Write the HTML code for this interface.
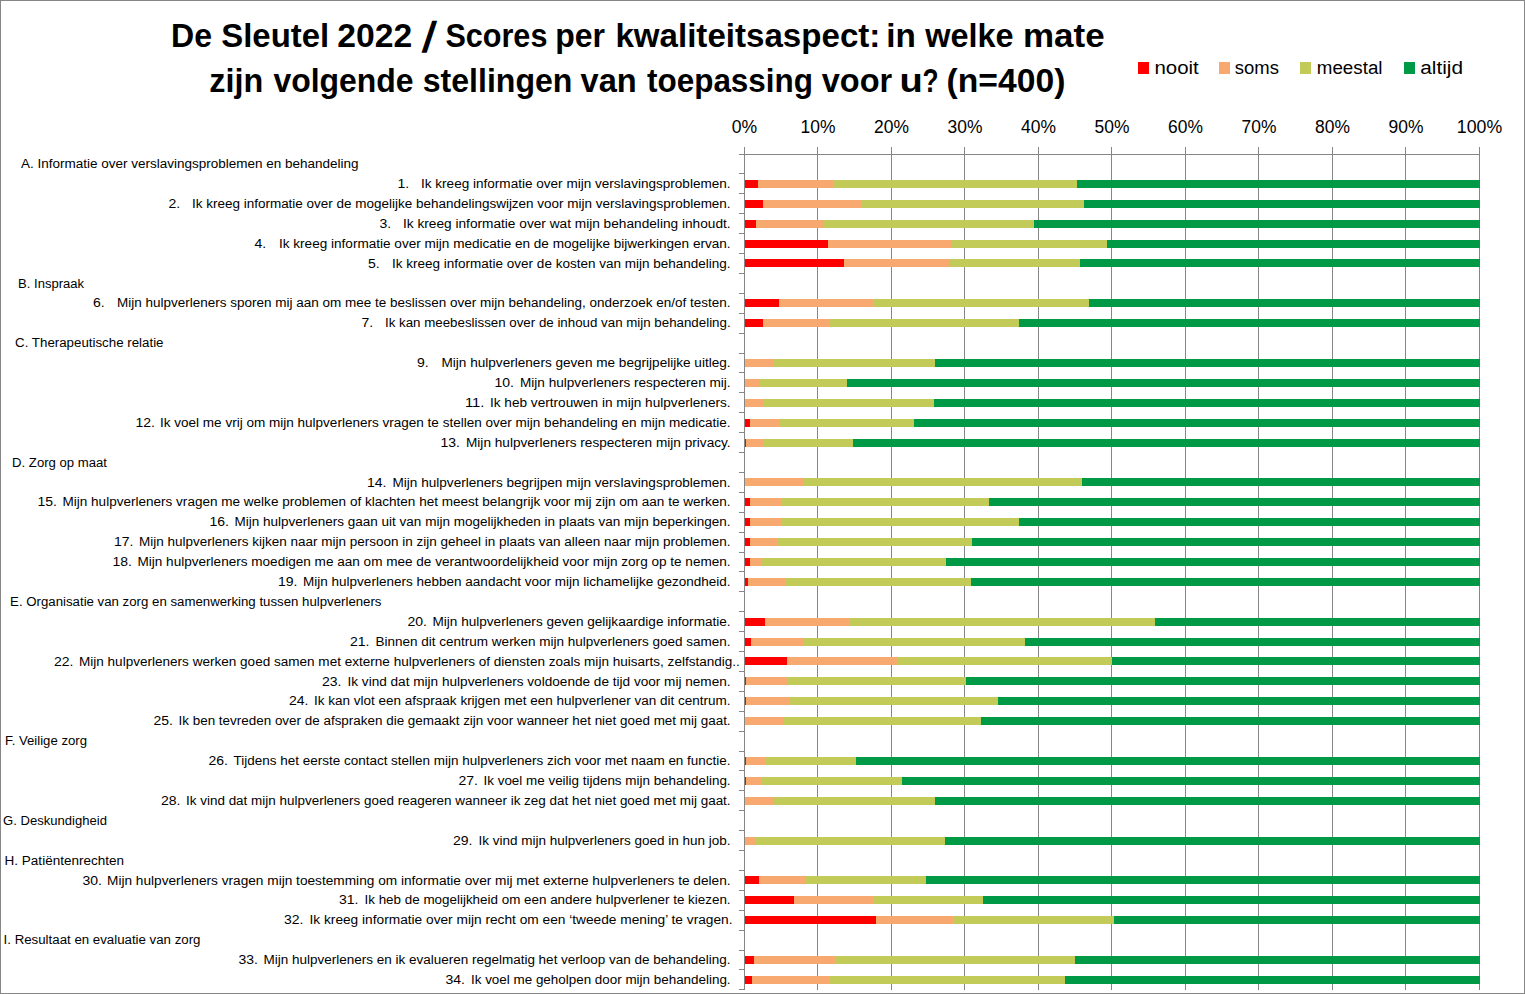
<!DOCTYPE html>
<html lang="nl"><head><meta charset="utf-8"><title>De Sleutel 2022 - Scores per kwaliteitsaspect</title>
<style>
html,body{margin:0;padding:0;background:#fff;}
body{width:1525px;height:994px;overflow:hidden;font-family:"Liberation Sans",sans-serif;}
svg{display:block;}
svg text{font-family:"Liberation Sans",sans-serif;fill:#000;white-space:pre;}
.lb{font-size:12.5px;}
.ax{font-size:18px;}
.ti{font-size:33px;font-weight:bold;}
.lg{font-size:19.2px;}
</style></head><body>
<svg width="1525" height="994" viewBox="0 0 1525 994">
<rect x="0" y="0" width="1525" height="994" fill="#fff"/>
<g fill="#868686" shape-rendering="crispEdges">
<rect x="744" y="147" width="1" height="843"/>
<rect x="817" y="147" width="1" height="843"/>
<rect x="891" y="147" width="1" height="843"/>
<rect x="964" y="147" width="1" height="843"/>
<rect x="1038" y="147" width="1" height="843"/>
<rect x="1111" y="147" width="1" height="843"/>
<rect x="1185" y="147" width="1" height="843"/>
<rect x="1258" y="147" width="1" height="843"/>
<rect x="1332" y="147" width="1" height="843"/>
<rect x="1405" y="147" width="1" height="843"/>
<rect x="1479" y="147" width="1" height="843"/>
<rect x="739" y="154" width="741" height="1"/>
<rect x="739" y="154" width="6" height="1"/>
<rect x="739" y="173" width="6" height="1"/>
<rect x="739" y="193" width="6" height="1"/>
<rect x="739" y="213" width="6" height="1"/>
<rect x="739" y="233" width="6" height="1"/>
<rect x="739" y="253" width="6" height="1"/>
<rect x="739" y="273" width="6" height="1"/>
<rect x="739" y="293" width="6" height="1"/>
<rect x="739" y="313" width="6" height="1"/>
<rect x="739" y="333" width="6" height="1"/>
<rect x="739" y="353" width="6" height="1"/>
<rect x="739" y="372" width="6" height="1"/>
<rect x="739" y="392" width="6" height="1"/>
<rect x="739" y="412" width="6" height="1"/>
<rect x="739" y="432" width="6" height="1"/>
<rect x="739" y="452" width="6" height="1"/>
<rect x="739" y="472" width="6" height="1"/>
<rect x="739" y="492" width="6" height="1"/>
<rect x="739" y="512" width="6" height="1"/>
<rect x="739" y="532" width="6" height="1"/>
<rect x="739" y="552" width="6" height="1"/>
<rect x="739" y="571" width="6" height="1"/>
<rect x="739" y="591" width="6" height="1"/>
<rect x="739" y="611" width="6" height="1"/>
<rect x="739" y="631" width="6" height="1"/>
<rect x="739" y="651" width="6" height="1"/>
<rect x="739" y="671" width="6" height="1"/>
<rect x="739" y="691" width="6" height="1"/>
<rect x="739" y="711" width="6" height="1"/>
<rect x="739" y="731" width="6" height="1"/>
<rect x="739" y="751" width="6" height="1"/>
<rect x="739" y="770" width="6" height="1"/>
<rect x="739" y="790" width="6" height="1"/>
<rect x="739" y="810" width="6" height="1"/>
<rect x="739" y="830" width="6" height="1"/>
<rect x="739" y="850" width="6" height="1"/>
<rect x="739" y="870" width="6" height="1"/>
<rect x="739" y="890" width="6" height="1"/>
<rect x="739" y="910" width="6" height="1"/>
<rect x="739" y="930" width="6" height="1"/>
<rect x="739" y="950" width="6" height="1"/>
<rect x="739" y="969" width="6" height="1"/>
<rect x="739" y="989" width="6" height="1"/>
</g>
<g shape-rendering="crispEdges">
<rect x="745.0" y="180" width="13.0" height="8" fill="#FF0000"/>
<rect x="758.0" y="180" width="74.9" height="8" fill="#F7A970"/>
<rect x="832.9" y="180" width="244.3" height="8" fill="#C3CB58"/>
<rect x="1077.2" y="180" width="402.8" height="8" fill="#009946"/>
<rect x="745.0" y="200" width="18.0" height="8" fill="#FF0000"/>
<rect x="763.0" y="200" width="97.7" height="8" fill="#F7A970"/>
<rect x="860.7" y="200" width="223.5" height="8" fill="#C3CB58"/>
<rect x="1084.2" y="200" width="395.8" height="8" fill="#009946"/>
<rect x="745.0" y="220" width="11.0" height="8" fill="#FF0000"/>
<rect x="756.0" y="220" width="67.7" height="8" fill="#F7A970"/>
<rect x="823.7" y="220" width="210.3" height="8" fill="#C3CB58"/>
<rect x="1034.0" y="220" width="446.0" height="8" fill="#009946"/>
<rect x="745.0" y="240" width="82.9" height="8" fill="#FF0000"/>
<rect x="827.9" y="240" width="123.9" height="8" fill="#F7A970"/>
<rect x="951.8" y="240" width="155.2" height="8" fill="#C3CB58"/>
<rect x="1107.0" y="240" width="373.0" height="8" fill="#009946"/>
<rect x="745.0" y="259" width="98.9" height="8" fill="#FF0000"/>
<rect x="843.9" y="259" width="105.9" height="8" fill="#F7A970"/>
<rect x="949.8" y="259" width="130.2" height="8" fill="#C3CB58"/>
<rect x="1080.0" y="259" width="400.0" height="8" fill="#009946"/>
<rect x="745.0" y="299" width="34.0" height="8" fill="#FF0000"/>
<rect x="779.0" y="299" width="94.6" height="8" fill="#F7A970"/>
<rect x="873.6" y="299" width="215.4" height="8" fill="#C3CB58"/>
<rect x="1089.0" y="299" width="391.0" height="8" fill="#009946"/>
<rect x="745.0" y="319" width="18.0" height="8" fill="#FF0000"/>
<rect x="763.0" y="319" width="65.9" height="8" fill="#F7A970"/>
<rect x="828.9" y="319" width="190.1" height="8" fill="#C3CB58"/>
<rect x="1019.0" y="319" width="461.0" height="8" fill="#009946"/>
<rect x="745.0" y="359" width="27.5" height="8" fill="#F7A970"/>
<rect x="772.5" y="359" width="162.4" height="8" fill="#C3CB58"/>
<rect x="934.9" y="359" width="545.1" height="8" fill="#009946"/>
<rect x="745.0" y="379" width="14.5" height="8" fill="#F7A970"/>
<rect x="759.5" y="379" width="87.4" height="8" fill="#C3CB58"/>
<rect x="846.9" y="379" width="633.1" height="8" fill="#009946"/>
<rect x="745.0" y="399" width="18.2" height="8" fill="#F7A970"/>
<rect x="763.2" y="399" width="170.9" height="8" fill="#C3CB58"/>
<rect x="934.1" y="399" width="545.9" height="8" fill="#009946"/>
<rect x="745.0" y="419" width="5.0" height="8" fill="#FF0000"/>
<rect x="750.0" y="419" width="30.0" height="8" fill="#F7A970"/>
<rect x="780.0" y="419" width="133.9" height="8" fill="#C3CB58"/>
<rect x="913.9" y="419" width="566.1" height="8" fill="#009946"/>
<rect x="745.0" y="439" width="1.0" height="8" fill="#FF0000"/>
<rect x="746.0" y="439" width="17.2" height="8" fill="#F7A970"/>
<rect x="763.2" y="439" width="89.7" height="8" fill="#C3CB58"/>
<rect x="852.9" y="439" width="627.1" height="8" fill="#009946"/>
<rect x="745.0" y="478" width="58.7" height="8" fill="#F7A970"/>
<rect x="803.7" y="478" width="278.3" height="8" fill="#C3CB58"/>
<rect x="1082.0" y="478" width="398.0" height="8" fill="#009946"/>
<rect x="745.0" y="498" width="5.0" height="8" fill="#FF0000"/>
<rect x="750.0" y="498" width="31.2" height="8" fill="#F7A970"/>
<rect x="781.2" y="498" width="207.9" height="8" fill="#C3CB58"/>
<rect x="989.1" y="498" width="490.9" height="8" fill="#009946"/>
<rect x="745.0" y="518" width="5.0" height="8" fill="#FF0000"/>
<rect x="750.0" y="518" width="30.5" height="8" fill="#F7A970"/>
<rect x="780.5" y="518" width="238.5" height="8" fill="#C3CB58"/>
<rect x="1019.0" y="518" width="461.0" height="8" fill="#009946"/>
<rect x="745.0" y="538" width="5.0" height="8" fill="#FF0000"/>
<rect x="750.0" y="538" width="26.5" height="8" fill="#F7A970"/>
<rect x="776.5" y="538" width="195.3" height="8" fill="#C3CB58"/>
<rect x="971.8" y="538" width="508.2" height="8" fill="#009946"/>
<rect x="745.0" y="558" width="5.0" height="8" fill="#FF0000"/>
<rect x="750.0" y="558" width="10.7" height="8" fill="#F7A970"/>
<rect x="760.7" y="558" width="185.1" height="8" fill="#C3CB58"/>
<rect x="945.8" y="558" width="534.2" height="8" fill="#009946"/>
<rect x="745.0" y="578" width="3.0" height="8" fill="#FF0000"/>
<rect x="748.0" y="578" width="36.7" height="8" fill="#F7A970"/>
<rect x="784.7" y="578" width="186.1" height="8" fill="#C3CB58"/>
<rect x="970.8" y="578" width="509.2" height="8" fill="#009946"/>
<rect x="745.0" y="618" width="20.0" height="8" fill="#FF0000"/>
<rect x="765.0" y="618" width="83.7" height="8" fill="#F7A970"/>
<rect x="848.7" y="618" width="306.3" height="8" fill="#C3CB58"/>
<rect x="1155.0" y="618" width="325.0" height="8" fill="#009946"/>
<rect x="745.0" y="638" width="6.0" height="8" fill="#FF0000"/>
<rect x="751.0" y="638" width="52.7" height="8" fill="#F7A970"/>
<rect x="803.7" y="638" width="221.3" height="8" fill="#C3CB58"/>
<rect x="1025.0" y="638" width="455.0" height="8" fill="#009946"/>
<rect x="745.0" y="657" width="42.0" height="8" fill="#FF0000"/>
<rect x="787.0" y="657" width="111.1" height="8" fill="#F7A970"/>
<rect x="898.1" y="657" width="213.9" height="8" fill="#C3CB58"/>
<rect x="1112.0" y="657" width="368.0" height="8" fill="#009946"/>
<rect x="745.0" y="677" width="1.0" height="8" fill="#FF0000"/>
<rect x="746.0" y="677" width="42.2" height="8" fill="#F7A970"/>
<rect x="788.2" y="677" width="177.6" height="8" fill="#C3CB58"/>
<rect x="965.8" y="677" width="514.2" height="8" fill="#009946"/>
<rect x="745.0" y="697" width="1.0" height="8" fill="#FF0000"/>
<rect x="746.0" y="697" width="44.0" height="8" fill="#F7A970"/>
<rect x="790.0" y="697" width="207.8" height="8" fill="#C3CB58"/>
<rect x="997.8" y="697" width="482.2" height="8" fill="#009946"/>
<rect x="745.0" y="717" width="39.0" height="8" fill="#F7A970"/>
<rect x="784.0" y="717" width="196.8" height="8" fill="#C3CB58"/>
<rect x="980.8" y="717" width="499.2" height="8" fill="#009946"/>
<rect x="745.0" y="757" width="1.0" height="8" fill="#FF0000"/>
<rect x="746.0" y="757" width="19.0" height="8" fill="#F7A970"/>
<rect x="765.0" y="757" width="90.9" height="8" fill="#C3CB58"/>
<rect x="855.9" y="757" width="624.1" height="8" fill="#009946"/>
<rect x="745.0" y="777" width="1.0" height="8" fill="#FF0000"/>
<rect x="746.0" y="777" width="14.7" height="8" fill="#F7A970"/>
<rect x="760.7" y="777" width="141.2" height="8" fill="#C3CB58"/>
<rect x="901.9" y="777" width="578.1" height="8" fill="#009946"/>
<rect x="745.0" y="797" width="29.2" height="8" fill="#F7A970"/>
<rect x="774.2" y="797" width="160.7" height="8" fill="#C3CB58"/>
<rect x="934.9" y="797" width="545.1" height="8" fill="#009946"/>
<rect x="745.0" y="837" width="11.0" height="8" fill="#F7A970"/>
<rect x="756.0" y="837" width="188.8" height="8" fill="#C3CB58"/>
<rect x="944.8" y="837" width="535.2" height="8" fill="#009946"/>
<rect x="745.0" y="876" width="14.0" height="8" fill="#FF0000"/>
<rect x="759.0" y="876" width="47.0" height="8" fill="#F7A970"/>
<rect x="806.0" y="876" width="119.9" height="8" fill="#C3CB58"/>
<rect x="925.9" y="876" width="554.1" height="8" fill="#009946"/>
<rect x="745.0" y="896" width="49.0" height="8" fill="#FF0000"/>
<rect x="794.0" y="896" width="78.9" height="8" fill="#F7A970"/>
<rect x="872.9" y="896" width="110.2" height="8" fill="#C3CB58"/>
<rect x="983.1" y="896" width="496.9" height="8" fill="#009946"/>
<rect x="745.0" y="916" width="130.9" height="8" fill="#FF0000"/>
<rect x="875.9" y="916" width="78.2" height="8" fill="#F7A970"/>
<rect x="954.1" y="916" width="159.9" height="8" fill="#C3CB58"/>
<rect x="1114.0" y="916" width="366.0" height="8" fill="#009946"/>
<rect x="745.0" y="956" width="9.0" height="8" fill="#FF0000"/>
<rect x="754.0" y="956" width="82.2" height="8" fill="#F7A970"/>
<rect x="836.2" y="956" width="238.8" height="8" fill="#C3CB58"/>
<rect x="1075.0" y="956" width="405.0" height="8" fill="#009946"/>
<rect x="745.0" y="976" width="7.0" height="8" fill="#FF0000"/>
<rect x="752.0" y="976" width="77.9" height="8" fill="#F7A970"/>
<rect x="829.9" y="976" width="235.1" height="8" fill="#C3CB58"/>
<rect x="1065.0" y="976" width="415.0" height="8" fill="#009946"/>
</g>
<g class="lb">
<text x="21.1" y="168.10" textLength="337.4" lengthAdjust="spacingAndGlyphs">A. Informatie over verslavingsproblemen en behandeling</text>
<text x="397.4" y="188.00" textLength="11.7" lengthAdjust="spacingAndGlyphs">1.</text>
<text x="421.0" y="188.00" textLength="309.6" lengthAdjust="spacingAndGlyphs">Ik kreeg informatie over mijn verslavingsproblemen.</text>
<text x="168.4" y="207.90" textLength="11.7" lengthAdjust="spacingAndGlyphs">2.</text>
<text x="192.0" y="207.90" textLength="538.6" lengthAdjust="spacingAndGlyphs">Ik kreeg informatie over de mogelijke behandelingswijzen voor mijn verslavingsproblemen.</text>
<text x="379.4" y="227.80" textLength="11.7" lengthAdjust="spacingAndGlyphs">3.</text>
<text x="403.0" y="227.80" textLength="327.6" lengthAdjust="spacingAndGlyphs">Ik kreeg informatie over wat mijn behandeling inhoudt.</text>
<text x="254.4" y="247.70" textLength="11.7" lengthAdjust="spacingAndGlyphs">4.</text>
<text x="279.0" y="247.70" textLength="451.6" lengthAdjust="spacingAndGlyphs">Ik kreeg informatie over mijn medicatie en de mogelijke bijwerkingen ervan.</text>
<text x="367.9" y="267.60" textLength="11.7" lengthAdjust="spacingAndGlyphs">5.</text>
<text x="392.0" y="267.60" textLength="338.6" lengthAdjust="spacingAndGlyphs">Ik kreeg informatie over de kosten van mijn behandeling.</text>
<text x="18.1" y="287.50" textLength="65.9" lengthAdjust="spacingAndGlyphs">B. Inspraak</text>
<text x="92.9" y="307.40" textLength="11.7" lengthAdjust="spacingAndGlyphs">6.</text>
<text x="117.0" y="307.40" textLength="613.6" lengthAdjust="spacingAndGlyphs">Mijn hulpverleners sporen mij aan om mee te beslissen over mijn behandeling, onderzoek en/of testen.</text>
<text x="361.4" y="327.30" textLength="11.7" lengthAdjust="spacingAndGlyphs">7.</text>
<text x="385.0" y="327.30" textLength="345.6" lengthAdjust="spacingAndGlyphs">Ik kan meebeslissen over de inhoud van mijn behandeling.</text>
<text x="15.1" y="347.20" textLength="148.4" lengthAdjust="spacingAndGlyphs">C. Therapeutische relatie</text>
<text x="416.9" y="367.10" textLength="11.7" lengthAdjust="spacingAndGlyphs">9.</text>
<text x="441.5" y="367.10" textLength="289.1" lengthAdjust="spacingAndGlyphs">Mijn hulpverleners geven me begrijpelijke uitleg.</text>
<text x="494.4" y="387.00" textLength="19.5" lengthAdjust="spacingAndGlyphs">10.</text>
<text x="520.0" y="387.00" textLength="210.6" lengthAdjust="spacingAndGlyphs">Mijn hulpverleners respecteren mij.</text>
<text x="464.9" y="406.90" textLength="19.5" lengthAdjust="spacingAndGlyphs">11.</text>
<text x="490.0" y="406.90" textLength="240.6" lengthAdjust="spacingAndGlyphs">Ik heb vertrouwen in mijn hulpverleners.</text>
<text x="135.4" y="426.80" textLength="19.5" lengthAdjust="spacingAndGlyphs">12.</text>
<text x="160.0" y="426.80" textLength="570.6" lengthAdjust="spacingAndGlyphs">Ik voel me vrij om mijn hulpverleners vragen te stellen over mijn behandeling en mijn medicatie.</text>
<text x="440.4" y="446.70" textLength="19.5" lengthAdjust="spacingAndGlyphs">13.</text>
<text x="466.0" y="446.70" textLength="264.6" lengthAdjust="spacingAndGlyphs">Mijn hulpverleners respecteren mijn privacy.</text>
<text x="12.1" y="466.60" textLength="94.9" lengthAdjust="spacingAndGlyphs">D. Zorg op maat</text>
<text x="366.9" y="486.50" textLength="19.5" lengthAdjust="spacingAndGlyphs">14.</text>
<text x="392.5" y="486.50" textLength="338.1" lengthAdjust="spacingAndGlyphs">Mijn hulpverleners begrijpen mijn verslavingsproblemen.</text>
<text x="37.4" y="506.40" textLength="19.5" lengthAdjust="spacingAndGlyphs">15.</text>
<text x="62.5" y="506.40" textLength="668.1" lengthAdjust="spacingAndGlyphs">Mijn hulpverleners vragen me welke problemen of klachten het meest belangrijk voor mij zijn om aan te werken.</text>
<text x="209.4" y="526.30" textLength="19.5" lengthAdjust="spacingAndGlyphs">16.</text>
<text x="234.5" y="526.30" textLength="496.1" lengthAdjust="spacingAndGlyphs">Mijn hulpverleners gaan uit van mijn mogelijkheden in plaats van mijn beperkingen.</text>
<text x="113.9" y="546.20" textLength="19.5" lengthAdjust="spacingAndGlyphs">17.</text>
<text x="139.0" y="546.20" textLength="591.6" lengthAdjust="spacingAndGlyphs">Mijn hulpverleners kijken naar mijn persoon in zijn geheel in plaats van alleen naar mijn problemen.</text>
<text x="112.4" y="566.10" textLength="19.5" lengthAdjust="spacingAndGlyphs">18.</text>
<text x="137.5" y="566.10" textLength="593.1" lengthAdjust="spacingAndGlyphs">Mijn hulpverleners moedigen me aan om mee de verantwoordelijkheid voor mijn zorg op te nemen.</text>
<text x="277.9" y="586.00" textLength="19.5" lengthAdjust="spacingAndGlyphs">19.</text>
<text x="303.0" y="586.00" textLength="427.6" lengthAdjust="spacingAndGlyphs">Mijn hulpverleners hebben aandacht voor mijn lichamelijke gezondheid.</text>
<text x="10.1" y="605.90" textLength="371.4" lengthAdjust="spacingAndGlyphs">E. Organisatie van zorg en samenwerking tussen hulpverleners</text>
<text x="407.4" y="625.80" textLength="19.5" lengthAdjust="spacingAndGlyphs">20.</text>
<text x="432.5" y="625.80" textLength="298.1" lengthAdjust="spacingAndGlyphs">Mijn hulpverleners geven gelijkaardige informatie.</text>
<text x="349.9" y="645.70" textLength="19.5" lengthAdjust="spacingAndGlyphs">21.</text>
<text x="375.5" y="645.70" textLength="355.1" lengthAdjust="spacingAndGlyphs">Binnen dit centrum werken mijn hulpverleners goed samen.</text>
<text x="53.9" y="665.60" textLength="19.5" lengthAdjust="spacingAndGlyphs">22.</text>
<text x="79.0" y="665.60" textLength="660.9" lengthAdjust="spacingAndGlyphs">Mijn hulpverleners werken goed samen met externe hulpverleners of diensten zoals mijn huisarts, zelfstandig..</text>
<text x="321.9" y="685.50" textLength="19.5" lengthAdjust="spacingAndGlyphs">23.</text>
<text x="347.5" y="685.50" textLength="383.1" lengthAdjust="spacingAndGlyphs">Ik vind dat mijn hulpverleners voldoende de tijd voor mij nemen.</text>
<text x="288.9" y="705.40" textLength="19.5" lengthAdjust="spacingAndGlyphs">24.</text>
<text x="314.0" y="705.40" textLength="416.6" lengthAdjust="spacingAndGlyphs">Ik kan vlot een afspraak krijgen met een hulpverlener van dit centrum.</text>
<text x="153.4" y="725.30" textLength="19.5" lengthAdjust="spacingAndGlyphs">25.</text>
<text x="178.5" y="725.30" textLength="552.1" lengthAdjust="spacingAndGlyphs">Ik ben tevreden over de afspraken die gemaakt zijn voor wanneer het niet goed met mij gaat.</text>
<text x="5.1" y="745.20" textLength="81.9" lengthAdjust="spacingAndGlyphs">F. Veilige zorg</text>
<text x="208.4" y="765.10" textLength="19.5" lengthAdjust="spacingAndGlyphs">26.</text>
<text x="233.5" y="765.10" textLength="497.1" lengthAdjust="spacingAndGlyphs">Tijdens het eerste contact stellen mijn hulpverleners zich voor met naam en functie.</text>
<text x="458.4" y="785.00" textLength="19.5" lengthAdjust="spacingAndGlyphs">27.</text>
<text x="483.5" y="785.00" textLength="247.1" lengthAdjust="spacingAndGlyphs">Ik voel me veilig tijdens mijn behandeling.</text>
<text x="160.9" y="804.90" textLength="19.5" lengthAdjust="spacingAndGlyphs">28.</text>
<text x="186.0" y="804.90" textLength="544.6" lengthAdjust="spacingAndGlyphs">Ik vind dat mijn hulpverleners goed reageren wanneer ik zeg dat het niet goed met mij gaat.</text>
<text x="3.1" y="824.80" textLength="103.9" lengthAdjust="spacingAndGlyphs">G. Deskundigheid</text>
<text x="452.9" y="844.70" textLength="19.5" lengthAdjust="spacingAndGlyphs">29.</text>
<text x="478.5" y="844.70" textLength="252.1" lengthAdjust="spacingAndGlyphs">Ik vind mijn hulpverleners goed in hun job.</text>
<text x="4.6" y="864.60" textLength="119.4" lengthAdjust="spacingAndGlyphs">H. Patiëntenrechten</text>
<text x="82.4" y="884.50" textLength="19.5" lengthAdjust="spacingAndGlyphs">30.</text>
<text x="107.0" y="884.50" textLength="623.6" lengthAdjust="spacingAndGlyphs">Mijn hulpverleners vragen mijn toestemming om informatie over mij met externe hulpverleners te delen.</text>
<text x="338.9" y="904.40" textLength="19.5" lengthAdjust="spacingAndGlyphs">31.</text>
<text x="364.5" y="904.40" textLength="366.1" lengthAdjust="spacingAndGlyphs">Ik heb de mogelijkheid om een andere hulpverlener te kiezen.</text>
<text x="283.9" y="924.30" textLength="19.5" lengthAdjust="spacingAndGlyphs">32.</text>
<text x="309.5" y="924.30" textLength="423.0" lengthAdjust="spacingAndGlyphs">Ik kreeg informatie over mijn recht om een ‘tweede mening’ te vragen.</text>
<text x="3.6" y="944.20" textLength="196.9" lengthAdjust="spacingAndGlyphs">I. Resultaat en evaluatie van zorg</text>
<text x="238.4" y="964.10" textLength="19.5" lengthAdjust="spacingAndGlyphs">33.</text>
<text x="263.5" y="964.10" textLength="467.1" lengthAdjust="spacingAndGlyphs">Mijn hulpverleners en ik evalueren regelmatig het verloop van de behandeling.</text>
<text x="445.4" y="984.00" textLength="19.5" lengthAdjust="spacingAndGlyphs">34.</text>
<text x="471.0" y="984.00" textLength="259.6" lengthAdjust="spacingAndGlyphs">Ik voel me geholpen door mijn behandeling.</text>
</g>
<g class="ax" text-anchor="middle">
<text x="744.5" y="132.8" textLength="25.4" lengthAdjust="spacingAndGlyphs">0%</text>
<text x="818.0" y="132.8" textLength="34.9" lengthAdjust="spacingAndGlyphs">10%</text>
<text x="891.5" y="132.8" textLength="34.9" lengthAdjust="spacingAndGlyphs">20%</text>
<text x="965.0" y="132.8" textLength="34.9" lengthAdjust="spacingAndGlyphs">30%</text>
<text x="1038.5" y="132.8" textLength="34.9" lengthAdjust="spacingAndGlyphs">40%</text>
<text x="1112.0" y="132.8" textLength="34.9" lengthAdjust="spacingAndGlyphs">50%</text>
<text x="1185.5" y="132.8" textLength="34.9" lengthAdjust="spacingAndGlyphs">60%</text>
<text x="1259.0" y="132.8" textLength="34.9" lengthAdjust="spacingAndGlyphs">70%</text>
<text x="1332.5" y="132.8" textLength="34.9" lengthAdjust="spacingAndGlyphs">80%</text>
<text x="1406.0" y="132.8" textLength="34.9" lengthAdjust="spacingAndGlyphs">90%</text>
<text x="1479.5" y="132.8" textLength="45.3" lengthAdjust="spacingAndGlyphs">100%</text>
</g>
<g shape-rendering="crispEdges">
<rect x="1138" y="62" width="11" height="12" fill="#FF0000"/>
<rect x="1219" y="62" width="11" height="12" fill="#F7A970"/>
<rect x="1300" y="62" width="11" height="12" fill="#C3CB58"/>
<rect x="1404" y="62" width="11" height="12" fill="#009946"/>
</g>
<g class="lg">
<text x="1154.5" y="73.6" textLength="44.3" lengthAdjust="spacingAndGlyphs">nooit</text>
<text x="1234.8" y="73.6" textLength="44.1" lengthAdjust="spacingAndGlyphs">soms</text>
<text x="1316.8" y="73.6" textLength="65.7" lengthAdjust="spacingAndGlyphs">meestal</text>
<text x="1420.2" y="73.6" textLength="42.8" lengthAdjust="spacingAndGlyphs">altijd</text>
</g>
<g class="ti">
<text x="171.00" y="47.1" textLength="41.00" lengthAdjust="spacingAndGlyphs">De</text>
<text x="221.20" y="47.1" textLength="108.00" lengthAdjust="spacingAndGlyphs">Sleutel</text>
<text x="337.20" y="47.1" textLength="75.00" lengthAdjust="spacingAndGlyphs">2022</text>
<text transform="translate(421.20,51.60) skewX(-8.0)" style="font-size:43px">/</text>
<text x="445.40" y="47.1" textLength="102.00" lengthAdjust="spacingAndGlyphs">Scores</text>
<text x="555.20" y="47.1" textLength="49.80" lengthAdjust="spacingAndGlyphs">per</text>
<text x="615.40" y="47.1" textLength="265.00" lengthAdjust="spacingAndGlyphs">kwaliteitsaspect:</text>
<text x="886.20" y="47.1" textLength="29.60" lengthAdjust="spacingAndGlyphs">in</text>
<text x="925.20" y="47.1" textLength="88.40" lengthAdjust="spacingAndGlyphs">welke</text>
<text x="1023.00" y="47.1" textLength="81.60" lengthAdjust="spacingAndGlyphs">mate</text>
<text x="209.20" y="92.3" textLength="54.00" lengthAdjust="spacingAndGlyphs">zijn</text>
<text x="273.40" y="92.3" textLength="140.20" lengthAdjust="spacingAndGlyphs">volgende</text>
<text x="422.80" y="92.3" textLength="149.60" lengthAdjust="spacingAndGlyphs">stellingen</text>
<text x="580.60" y="92.3" textLength="56.20" lengthAdjust="spacingAndGlyphs">van</text>
<text x="647.00" y="92.3" textLength="166.00" lengthAdjust="spacingAndGlyphs">toepassing</text>
<text x="821.80" y="92.3" textLength="70.40" lengthAdjust="spacingAndGlyphs">voor</text>
<text x="899.4" y="92.3" textLength="23.3" lengthAdjust="spacingAndGlyphs">u</text>
<text x="922.5" y="92.3" textLength="16.1" lengthAdjust="spacingAndGlyphs">?</text>
<text x="946.60" y="92.3" textLength="118.80" lengthAdjust="spacingAndGlyphs">(n=400)</text>
</g>
<g fill="#868686" shape-rendering="crispEdges">
<rect x="0" y="0" width="1525" height="1"/><rect x="0" y="993" width="1525" height="1"/><rect x="0" y="0" width="1" height="994"/><rect x="1524" y="0" width="1" height="994"/>
</g>
</svg></body></html>
